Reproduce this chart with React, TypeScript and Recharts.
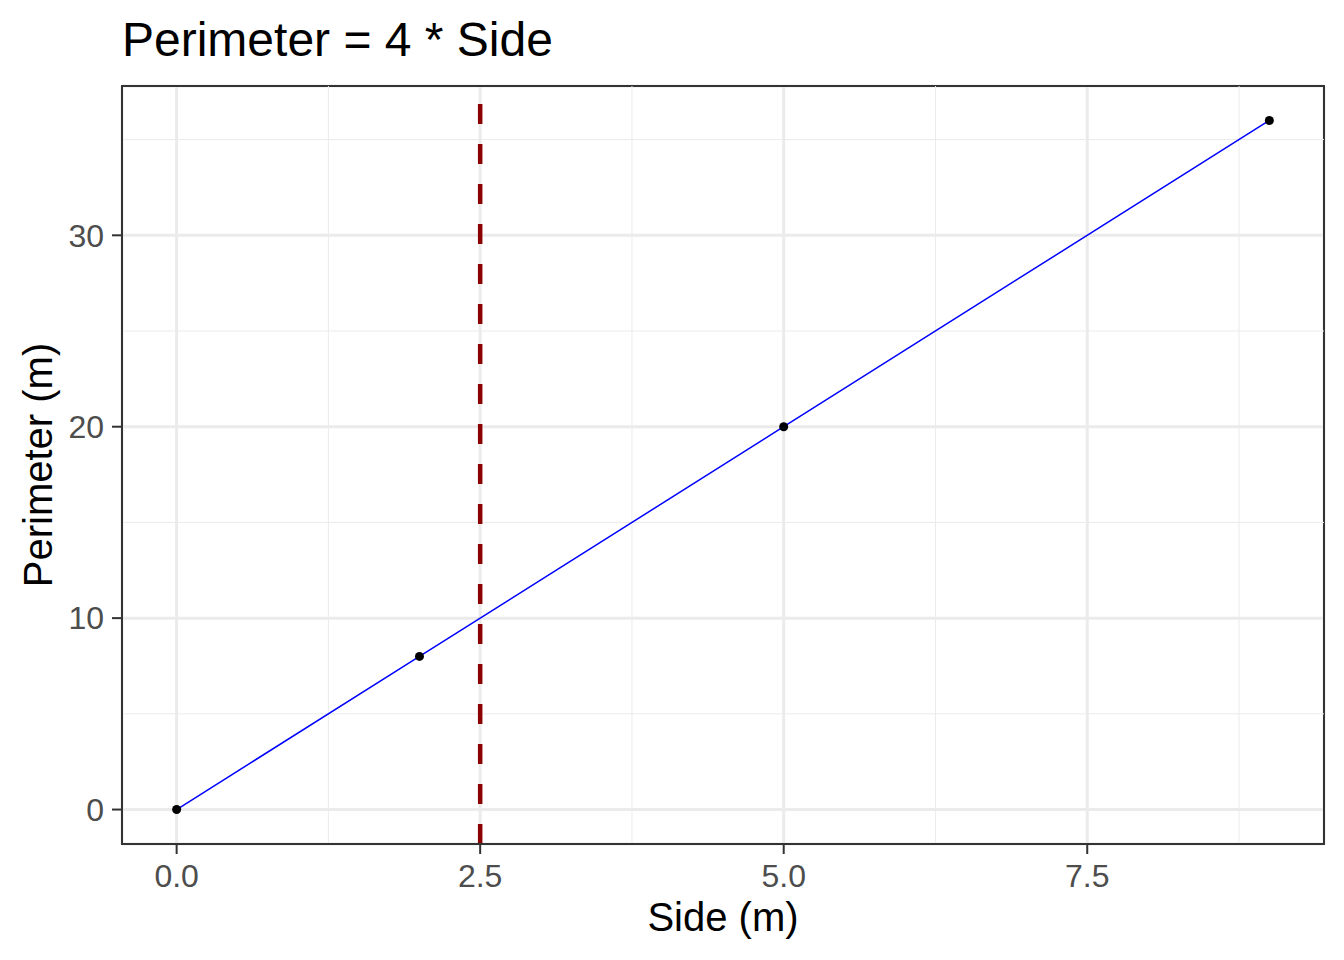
import React from "react";
import {
  ComposedChart,
  Line,
  Scatter,
  XAxis,
  YAxis,
  CartesianGrid,
  ReferenceLine,
  ReferenceArea,
} from "recharts";

const sides = [0, 2, 5, 9];
const perimeters = [0, 8, 20, 36];
const xTicks = [0, 2.5, 5, 7.5];
const yTicks = [0, 10, 20, 30];
const xMinor = [1.25, 3.75, 6.25, 8.75];
const yMinor = [5, 15, 25, 35];
const cutoff = 2.5;

const xDomain: [number, number] = [-0.45, 9.45];
const yDomain: [number, number] = [-1.8, 37.8];

const data = sides.map((s, i) => ({ side: s, perimeter: perimeters[i] }));

const FONT = '"Liberation Sans", Arial, sans-serif';
const tickStyle = { fill: "#4D4D4D", fontSize: 32, fontFamily: FONT };

// black point, drawn under the line like ggplot does
const Dot = (p: any) => <circle cx={p.cx} cy={p.cy} r={4.5} fill="#000000" />;

export default function App() {
  return (
    <div
      style={{
        position: "absolute",
        left: 0,
        top: 0,
        width: 1344,
        height: 960,
        background: "#fff",
        fontFamily: FONT,
      }}
    >
      <div
        style={{
          position: "absolute",
          left: 122,
          top: 16,
          fontSize: 48,
          lineHeight: 1,
          color: "#000",
          whiteSpace: "nowrap",
        }}
      >
        Perimeter = 4 * Side
      </div>
      <ComposedChart
        width={1344}
        height={960}
        data={data}
        margin={{ top: 86, right: 20, bottom: 0, left: 0 }}
      >
        <CartesianGrid stroke="#EBEBEB" strokeWidth={3} />
        {xMinor.map((v) => (
          <ReferenceLine key={"xm" + v} x={v} stroke="#EBEBEB" strokeWidth={1} />
        ))}
        {yMinor.map((v) => (
          <ReferenceLine key={"ym" + v} y={v} stroke="#EBEBEB" strokeWidth={1} />
        ))}
        <XAxis
          dataKey="side"
          type="number"
          domain={xDomain}
          allowDataOverflow
          ticks={xTicks}
          tickFormatter={(v: number) => v.toFixed(1)}
          height={116}
          tick={tickStyle}
          tickSize={10}
          tickMargin={10}
          tickLine={{ stroke: "#333333", strokeWidth: 2 }}
          axisLine={{ stroke: "#333333", strokeWidth: 2 }}
          label={{
            value: "Side (m)",
            position: "insideBottom",
            offset: 29,
            style: { fill: "#000", fontSize: 40, fontFamily: FONT },
          }}
        />
        <YAxis
          type="number"
          domain={yDomain}
          allowDataOverflow
          ticks={yTicks}
          width={122}
          tick={tickStyle}
          tickSize={10}
          tickMargin={8}
          tickLine={{ stroke: "#333333", strokeWidth: 2 }}
          axisLine={{ stroke: "#333333", strokeWidth: 2 }}
          label={{
            value: "Perimeter (m)",
            angle: -90,
            position: "insideLeft",
            offset: 38,
            style: { fill: "#000", fontSize: 40, fontFamily: FONT, textAnchor: "middle" },
          }}
        />
        <Scatter dataKey="perimeter" fill="#000000" shape={Dot} isAnimationActive={false} />
        <Line
          type="linear"
          dataKey="perimeter"
          stroke="#0000FF"
          strokeWidth={1.5}
          dot={false}
          activeDot={false}
          isAnimationActive={false}
        />
        <ReferenceLine x={cutoff} stroke="#8B0000" strokeWidth={4.5} strokeDasharray="20 20" />
        <ReferenceArea
          x1={xDomain[0]}
          x2={xDomain[1]}
          y1={yDomain[0]}
          y2={yDomain[1]}
          fill="none"
          stroke="#333333"
          strokeWidth={2}
          fillOpacity={0}
        />
      </ComposedChart>
    </div>
  );
}
